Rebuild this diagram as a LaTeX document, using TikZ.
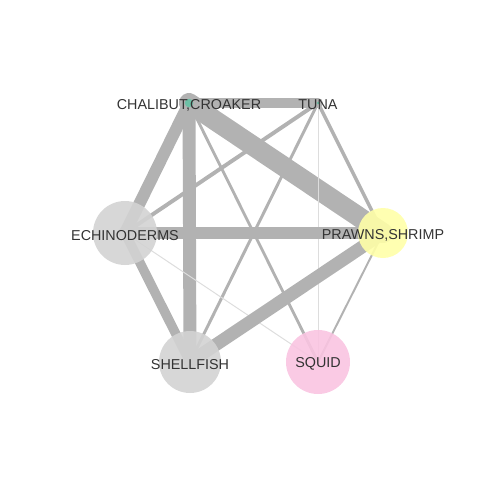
\documentclass[tikz,border=0pt]{standalone}
\usepackage{fontspec}
\setmainfont{Liberation Sans}
\usepackage{tikz}
\usetikzlibrary{positioning,backgrounds}

\definecolor{edgegray}{HTML}{B2B2B2}
\definecolor{edgelight}{HTML}{DDDDDD}
\definecolor{nodegray}{HTML}{D3D3D3}
\definecolor{nodeteal}{HTML}{66C2A5}
\definecolor{nodeyellow}{HTML}{FFFFA8}
\definecolor{nodepink}{HTML}{F9C4E1}
\definecolor{textgray}{HTML}{333333}

\tikzset{
  vtx/.style={circle, inner sep=0pt, fill opacity=0.9, draw=none},
  lbl/.style={font=\fontsize{10.2}{12}\selectfont, text=textgray, inner sep=0pt, yshift=-1.5pt},
  link/.style={draw=edgegray, line width=#1, line cap=round},
  faint/.style={draw=edgelight, line width=#1, line cap=round}
}

\begin{document}
\begin{tikzpicture}[x=0.025cm, y=-0.025cm]
    \useasboundingbox (0,0) rectangle (480,480);

    % Nodes
    \node (chalibut) [vtx, fill=nodeteal, minimum size=8.5*0.025cm] at (189,103) {};
    \node (tuna) [vtx, fill=nodeteal, minimum size=3*0.025cm] at (318,103) {};
    \node (echino) [vtx, fill=nodegray, minimum size=64*0.025cm] at (125,233) {};
    \node (prawns) [vtx, fill=nodeyellow, minimum size=50*0.025cm] at (383,233) {};
    \node (shellfish) [vtx, fill=nodegray, minimum size=62*0.025cm] at (190,362) {};
    \node (squid) [vtx, fill=nodepink, minimum size=64*0.025cm] at (318,362) {};

    % Labels
    \node [lbl] at (chalibut) {CHALIBUT,CROAKER};
    \node [lbl] at (tuna) {TUNA};
    \node [lbl] at (echino) {ECHINODERMS};
    \node [lbl] at (prawns) {PRAWNS,SHRIMP};
    \node [lbl] at (shellfish) {SHELLFISH};
    \node [lbl] at (squid) {SQUID};

    % Connections
    \begin{scope}[on background layer]
    \draw[link=14.2pt] (chalibut.center) -- (prawns.center);
    \draw[link=9.2pt] (chalibut.center) -- (shellfish.center);
    \draw[link=8.5pt] (chalibut.center) -- (echino.center);
    \draw[link=7.1pt] (chalibut.center) -- (tuna.center);
    \draw[link=2pt] (chalibut.center) -- (squid.center);
    \draw[link=2.8pt] (tuna.center) -- (echino.center);
    \draw[link=2.1pt] (tuna.center) -- (shellfish.center);
    \draw[link=2.5pt] (tuna.center) -- (prawns.center);
    \draw[faint=0.7pt] (tuna.center) -- (squid.center);
    \draw[link=9.2pt] (echino.center) -- (prawns.center);
    \draw[link=6.8pt] (echino.center) -- (shellfish.center);
    \draw[faint=0.7pt] (echino.center) -- (squid.center);
    \draw[link=9.2pt] (prawns.center) -- (shellfish.center);
    \draw[link=1.4pt] (prawns.center) -- (squid.center);
    \end{scope}

\end{tikzpicture}
\end{document}
